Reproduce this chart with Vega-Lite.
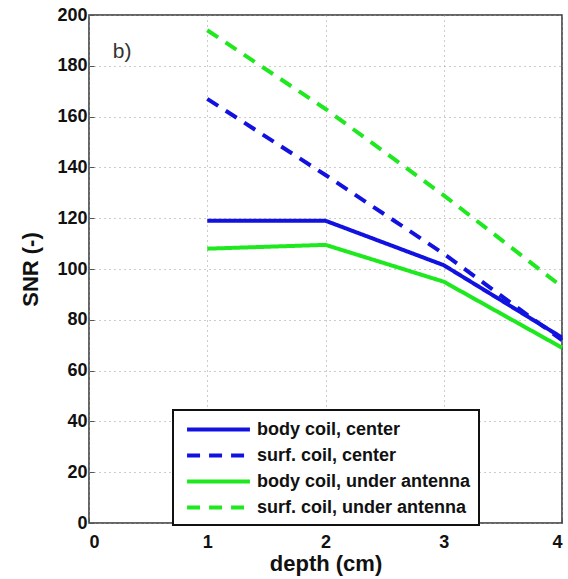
{
  "$schema": "https://vega.github.io/schema/vega-lite/v6.json",
  "autosize": "none",
  "width": 473,
  "height": 508,
  "padding": {"left": 89, "top": 15, "right": 6, "bottom": 56},
  "background": "white",
  "config": {
    "view": {"stroke": "#333", "strokeWidth": 1.5},
    "font": "Liberation Sans"
  },
  "datasets": {
    "lines": [
      {"depth": 1, "snr": 119, "series": "body coil, center"},
      {"depth": 2, "snr": 119, "series": "body coil, center"},
      {"depth": 3, "snr": 101.5, "series": "body coil, center"},
      {"depth": 4, "snr": 73, "series": "body coil, center"},
      {"depth": 1, "snr": 167, "series": "surf. coil, center"},
      {"depth": 2, "snr": 137, "series": "surf. coil, center"},
      {"depth": 3, "snr": 106, "series": "surf. coil, center"},
      {"depth": 4, "snr": 72, "series": "surf. coil, center"},
      {"depth": 1, "snr": 108, "series": "body coil, under antenna"},
      {"depth": 2, "snr": 109.5, "series": "body coil, under antenna"},
      {"depth": 3, "snr": 95, "series": "body coil, under antenna"},
      {"depth": 4, "snr": 69, "series": "body coil, under antenna"},
      {"depth": 1, "snr": 194, "series": "surf. coil, under antenna"},
      {"depth": 2, "snr": 163, "series": "surf. coil, under antenna"},
      {"depth": 3, "snr": 129, "series": "surf. coil, under antenna"},
      {"depth": 4, "snr": 93, "series": "surf. coil, under antenna"}
    ],
    "label": [{"depth": 0.28, "snr": 185.5, "text": "b)"}]
  },
  "encoding": {
    "x": {
      "field": "depth", "type": "quantitative",
      "scale": {"domain": [0, 4], "nice": false},
      "axis": {
        "values": [0, 1, 2, 3, 4], "title": "depth (cm)",
        "grid": true, "gridDash": [1, 4], "gridColor": "#999", "gridWidth": 1,
        "domain": false, "tickSize": -5, "tickColor": "#555", "labelPadding": 15,
        "labelFontSize": 18, "labelFontWeight": "bold", "labelColor": "#111",
        "titleFontSize": 22, "titleFontWeight": "bold", "titleColor": "#111", "titlePadding": 2
      }
    },
    "y": {
      "field": "snr", "type": "quantitative",
      "scale": {"domain": [0, 200], "nice": false},
      "axis": {
        "values": [0, 20, 40, 60, 80, 100, 120, 140, 160, 180, 200], "title": "SNR (-)",
        "grid": true, "gridDash": [1, 4], "gridColor": "#999", "gridWidth": 1,
        "domain": false, "tickSize": -5, "tickColor": "#555", "labelPadding": 7,
        "labelFontSize": 18, "labelFontWeight": "bold", "labelColor": "#111",
        "titleFontSize": 22, "titleFontWeight": "bold", "titleColor": "#111", "titlePadding": 14
      }
    }
  },
  "layer": [
    {
      "data": {"name": "lines"},
      "mark": {"type": "line", "strokeWidth": 4},
      "encoding": {
        "color": {
          "field": "series", "type": "nominal", "title": null,
          "scale": {
            "domain": ["body coil, center", "surf. coil, center", "body coil, under antenna", "surf. coil, under antenna"],
            "range": ["#1212e0", "#1212e0", "#1ee81e", "#1ee81e"]
          },
          "legend": {
            "orient": "none", "legendX": 84, "legendY": 395,
            "symbolType": "M-3.4,0H3.4", "symbolSize": 342, "symbolStrokeWidth": 4,
            "symbolOffset": 26,
            "labelFontSize": 18, "labelFontWeight": "bold", "labelColor": "#111",
            "fillColor": "white", "strokeColor": "#111",
            "padding": 8, "rowPadding": 5, "labelOffset": 27, "labelLimit": 400,
            "encode": {"legend": {"update": {"strokeWidth": {"value": 2}}}}
          }
        },
        "strokeDash": {
          "field": "series", "type": "nominal", "title": null,
          "scale": {
            "domain": ["body coil, center", "surf. coil, center", "body coil, under antenna", "surf. coil, under antenna"],
            "range": [[1, 0], [13, 9], [1, 0], [13, 9]]
          }
        },
        "order": {"field": "depth"}
      }
    },
    {
      "data": {"name": "label"},
      "mark": {"type": "text", "fontSize": 21, "color": "#333", "font": "Liberation Sans"},
      "encoding": {"text": {"field": "text"}}
    }
  ]
}
